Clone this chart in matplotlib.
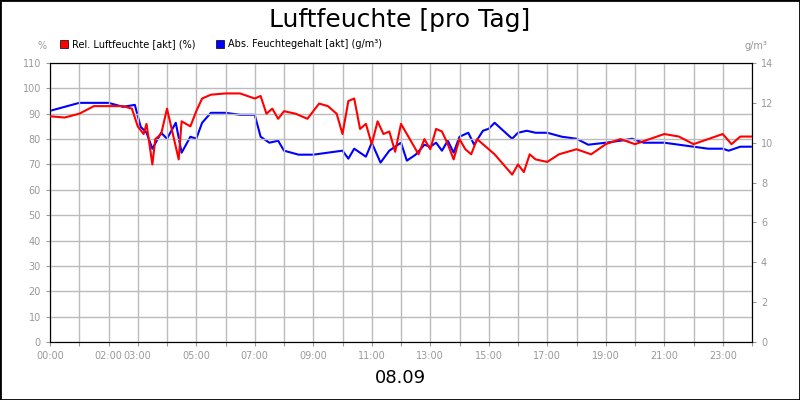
import matplotlib
matplotlib.use("Agg")
import matplotlib.pyplot as plt
from matplotlib.patches import Rectangle

# time in hours
t_rel = [0.0, 0.5, 1.0, 1.5, 2.0, 2.5, 2.8, 3.0, 3.2, 3.3, 3.5, 3.6, 3.8, 4.0, 4.2, 4.4, 4.5, 4.8,
         5.0, 5.2, 5.5, 6.0, 6.5, 7.0, 7.2, 7.4, 7.6, 7.8, 8.0, 8.4, 8.8, 9.2, 9.5, 9.8, 10.0, 10.2,
         10.4, 10.6, 10.8, 11.0, 11.2, 11.4, 11.6, 11.8, 12.0, 12.4, 12.6, 12.8, 13.0, 13.2, 13.4,
         13.6, 13.8, 14.0, 14.2, 14.4, 14.6, 14.8, 15.2, 15.5, 15.8, 16.0, 16.2, 16.4, 16.6, 17.0,
         17.4, 18.0, 18.5, 19.0, 19.5, 20.0, 20.5, 21.0, 21.5, 22.0, 22.5, 23.0, 23.3, 23.6, 24.0]
rel = [89, 88.5, 90, 93, 93, 93, 92, 85, 82, 86, 70, 80, 82, 92, 82, 72, 87, 85,
       91, 96, 97.5, 98, 98, 96, 97, 90, 92, 88, 91, 90, 88, 94, 93, 90, 82, 95,
       96, 84, 86, 78, 87, 82, 83, 75, 86, 78, 74, 80, 76, 84, 83,
       78, 72, 80, 76, 74, 80, 78, 74, 70, 66, 70, 67, 74, 72, 71,
       74, 76, 74, 78, 80, 78, 80, 82, 81, 78, 80, 82, 78, 81, 81]

t_abs = [0.0, 1.0, 2.0, 2.5, 2.9, 3.1, 3.3, 3.5, 3.8, 4.0, 4.3, 4.5, 4.8, 5.0, 5.2, 5.5, 6.0,
         6.5, 7.0, 7.2, 7.5, 7.8, 8.0, 8.5, 9.0, 9.5, 10.0, 10.2, 10.4, 10.6, 10.8, 11.0, 11.3,
         11.6, 12.0, 12.2, 12.5, 12.8, 13.0, 13.2, 13.4, 13.6, 13.8, 14.0, 14.3, 14.5, 14.8,
         15.0, 15.2, 15.5, 15.8, 16.0, 16.3, 16.6, 17.0, 17.5, 18.0, 18.4, 19.0, 19.5, 19.9,
         20.3, 21.0, 21.5, 22.0, 22.5, 23.0, 23.2, 23.6, 24.0]
absf = [11.6, 12.0, 12.0, 11.8, 11.9, 10.8, 10.5, 9.7, 10.5, 10.2, 11.0, 9.5, 10.3, 10.2, 11.0, 11.5, 11.5,
        11.4, 11.4, 10.3, 10.0, 10.1, 9.6, 9.4, 9.4, 9.5, 9.6, 9.2, 9.7, 9.5, 9.3, 10.0, 9.0,
        9.6, 10.0, 9.1, 9.4, 9.9, 9.8, 10.0, 9.6, 10.1, 9.5, 10.3, 10.5, 9.9, 10.6,
        10.7, 11.0, 10.6, 10.2, 10.5, 10.6, 10.5, 10.5, 10.3, 10.2, 9.9, 10.0, 10.1, 10.2,
        10.0, 10.0, 9.9, 9.8, 9.7, 9.7, 9.6, 9.8, 9.8]

tick_hours = [0, 2, 3, 5, 7, 9, 11, 13, 15, 17, 19, 21, 23]

fig = plt.figure(figsize=(8, 4), dpi=100)
fig.patches.append(Rectangle((0, 0), 1, 1, transform=fig.transFigure, fill=False,
                             ec="black", lw=2))
ax = fig.add_axes([0.0625, 0.145, 0.8775, 0.6975])
ax2 = ax.twinx()

ax.plot(t_rel, rel, color="#ff0000", lw=1.5, zorder=3)
ax2.plot(t_abs, absf, color="#0000ff", lw=1.5)
ax.set_zorder(ax2.get_zorder() + 1)
ax.patch.set_visible(False)

ax.set_xlim(0, 24)
ax.set_ylim(0, 110)
ax2.set_ylim(0, 14)
ax.set_yticks(range(0, 111, 10))
ax2.set_yticks(range(0, 15, 2))
ax.set_xticks(range(0, 25))
ax.set_xticklabels([f"{h:02d}:00" if h in tick_hours else "" for h in range(25)])
ax.grid(True, color="#bbbbbb", lw=1)
for a in (ax, ax2):
    a.tick_params(labelsize=7, colors="#999999", length=3)
    for s in a.spines.values():
        s.set_color("black")

fig.text(0.5, 0.95, "Luftfeuchte [pro Tag]", ha="center", va="center", fontsize=18)
fig.text(0.5, 0.055, "08.09", ha="center", va="center", fontsize=13)
fig.text(0.0525, 0.878, "%", ha="center", fontsize=7, color="#999999")
fig.text(0.945, 0.878, "g/m³", ha="center", fontsize=7, color="#999999")
fig.patches.append(Rectangle((0.075, 0.88), 0.01, 0.02, transform=fig.transFigure,
                             fc="#ff0000", ec="black", lw=0.5))
fig.text(0.09, 0.89, "Rel. Luftfeuchte [akt] (%)", va="center", fontsize=7)
fig.patches.append(Rectangle((0.27, 0.88), 0.01, 0.02, transform=fig.transFigure,
                             fc="#0000ff", ec="black", lw=0.5))
fig.text(0.285, 0.89, "Abs. Feuchtegehalt [akt] (g/m³)", va="center", fontsize=7)

fig.savefig("out.png", dpi=100)
